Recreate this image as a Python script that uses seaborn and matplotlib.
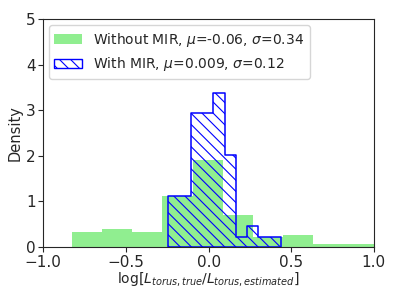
import matplotlib
matplotlib.use("Agg")
import matplotlib.pyplot as plt
import numpy as np
import seaborn as sns
from matplotlib.patches import Patch

# histogram bins and densities
edges_no_mir = [-0.827, -0.6445, -0.462, -0.2795, -0.097, 0.0855, 0.268, 0.4505, 0.633, 0.8155, 0.998]
dens_no_mir = [0.32, 0.39, 0.32, 1.13, 1.91, 0.70, 0.22, 0.26, 0.06, 0.06]

edges_mir = [-0.243, -0.1749, -0.1068, -0.0387, 0.0294, 0.0975, 0.1656, 0.2337, 0.3018, 0.3699, 0.438]
dens_mir = [1.13, 1.13, 2.94, 2.94, 3.39, 2.03, 0.226, 0.452, 0.226, 0.226]

label_no_mir = r'Without MIR, $\mu$=-0.06, $\sigma$=0.34'
label_mir = r'With MIR, $\mu$=0.009, $\sigma$=0.12'

sns.set_style("ticks")
plt.rcParams['font.family'] = ['DejaVu Sans']
plt.rcParams['hatch.color'] = 'blue'
plt.rcParams['hatch.linewidth'] = 0.8

fig, ax = plt.subplots(figsize=(3.99, 2.99), dpi=100)
fig.subplots_adjust(left=0.1085, right=0.937, top=0.935, bottom=0.174)

centres_no_mir = [(a + b) / 2 for a, b in zip(edges_no_mir[:-1], edges_no_mir[1:])]
centres_mir = [(a + b) / 2 for a, b in zip(edges_mir[:-1], edges_mir[1:])]

sns.histplot(x=centres_no_mir, weights=dens_no_mir, bins=edges_no_mir, stat='count',
             element='bars', color='lightgreen', alpha=1, linewidth=0, ax=ax)
sns.histplot(x=centres_mir, weights=dens_mir, bins=edges_mir, stat='count',
             element='step', fill=True, color='blue', facecolor='none', edgecolor='blue',
             hatch='\\\\\\', linewidth=1.1, ax=ax)

handles = [Patch(facecolor='lightgreen', edgecolor='none', label=label_no_mir),
           Patch(facecolor='none', edgecolor='blue', hatch='\\\\\\', label=label_mir)]
ax.legend(handles=handles, loc='upper left', fontsize=10, handlelength=2.0,
          borderaxespad=0.4)

ax.set_xlim(-1, 1)
ax.set_ylim(0, 5)
ax.set_xticks([-1.0, -0.5, 0.0, 0.5, 1.0])
ax.set_yticks([0, 1, 2, 3, 4, 5])
ax.tick_params(labelsize=11, pad=2)
ax.set_xlabel(r'$\log[L_{torus, true}/L_{torus, estimated}]$', fontsize=10, labelpad=0)
ax.set_ylabel('Density', fontsize=10.5, labelpad=2)
for s in ax.spines.values():
    s.set_visible(True)
    s.set_linewidth(0.8)

plt.savefig('out.png', dpi=100)
